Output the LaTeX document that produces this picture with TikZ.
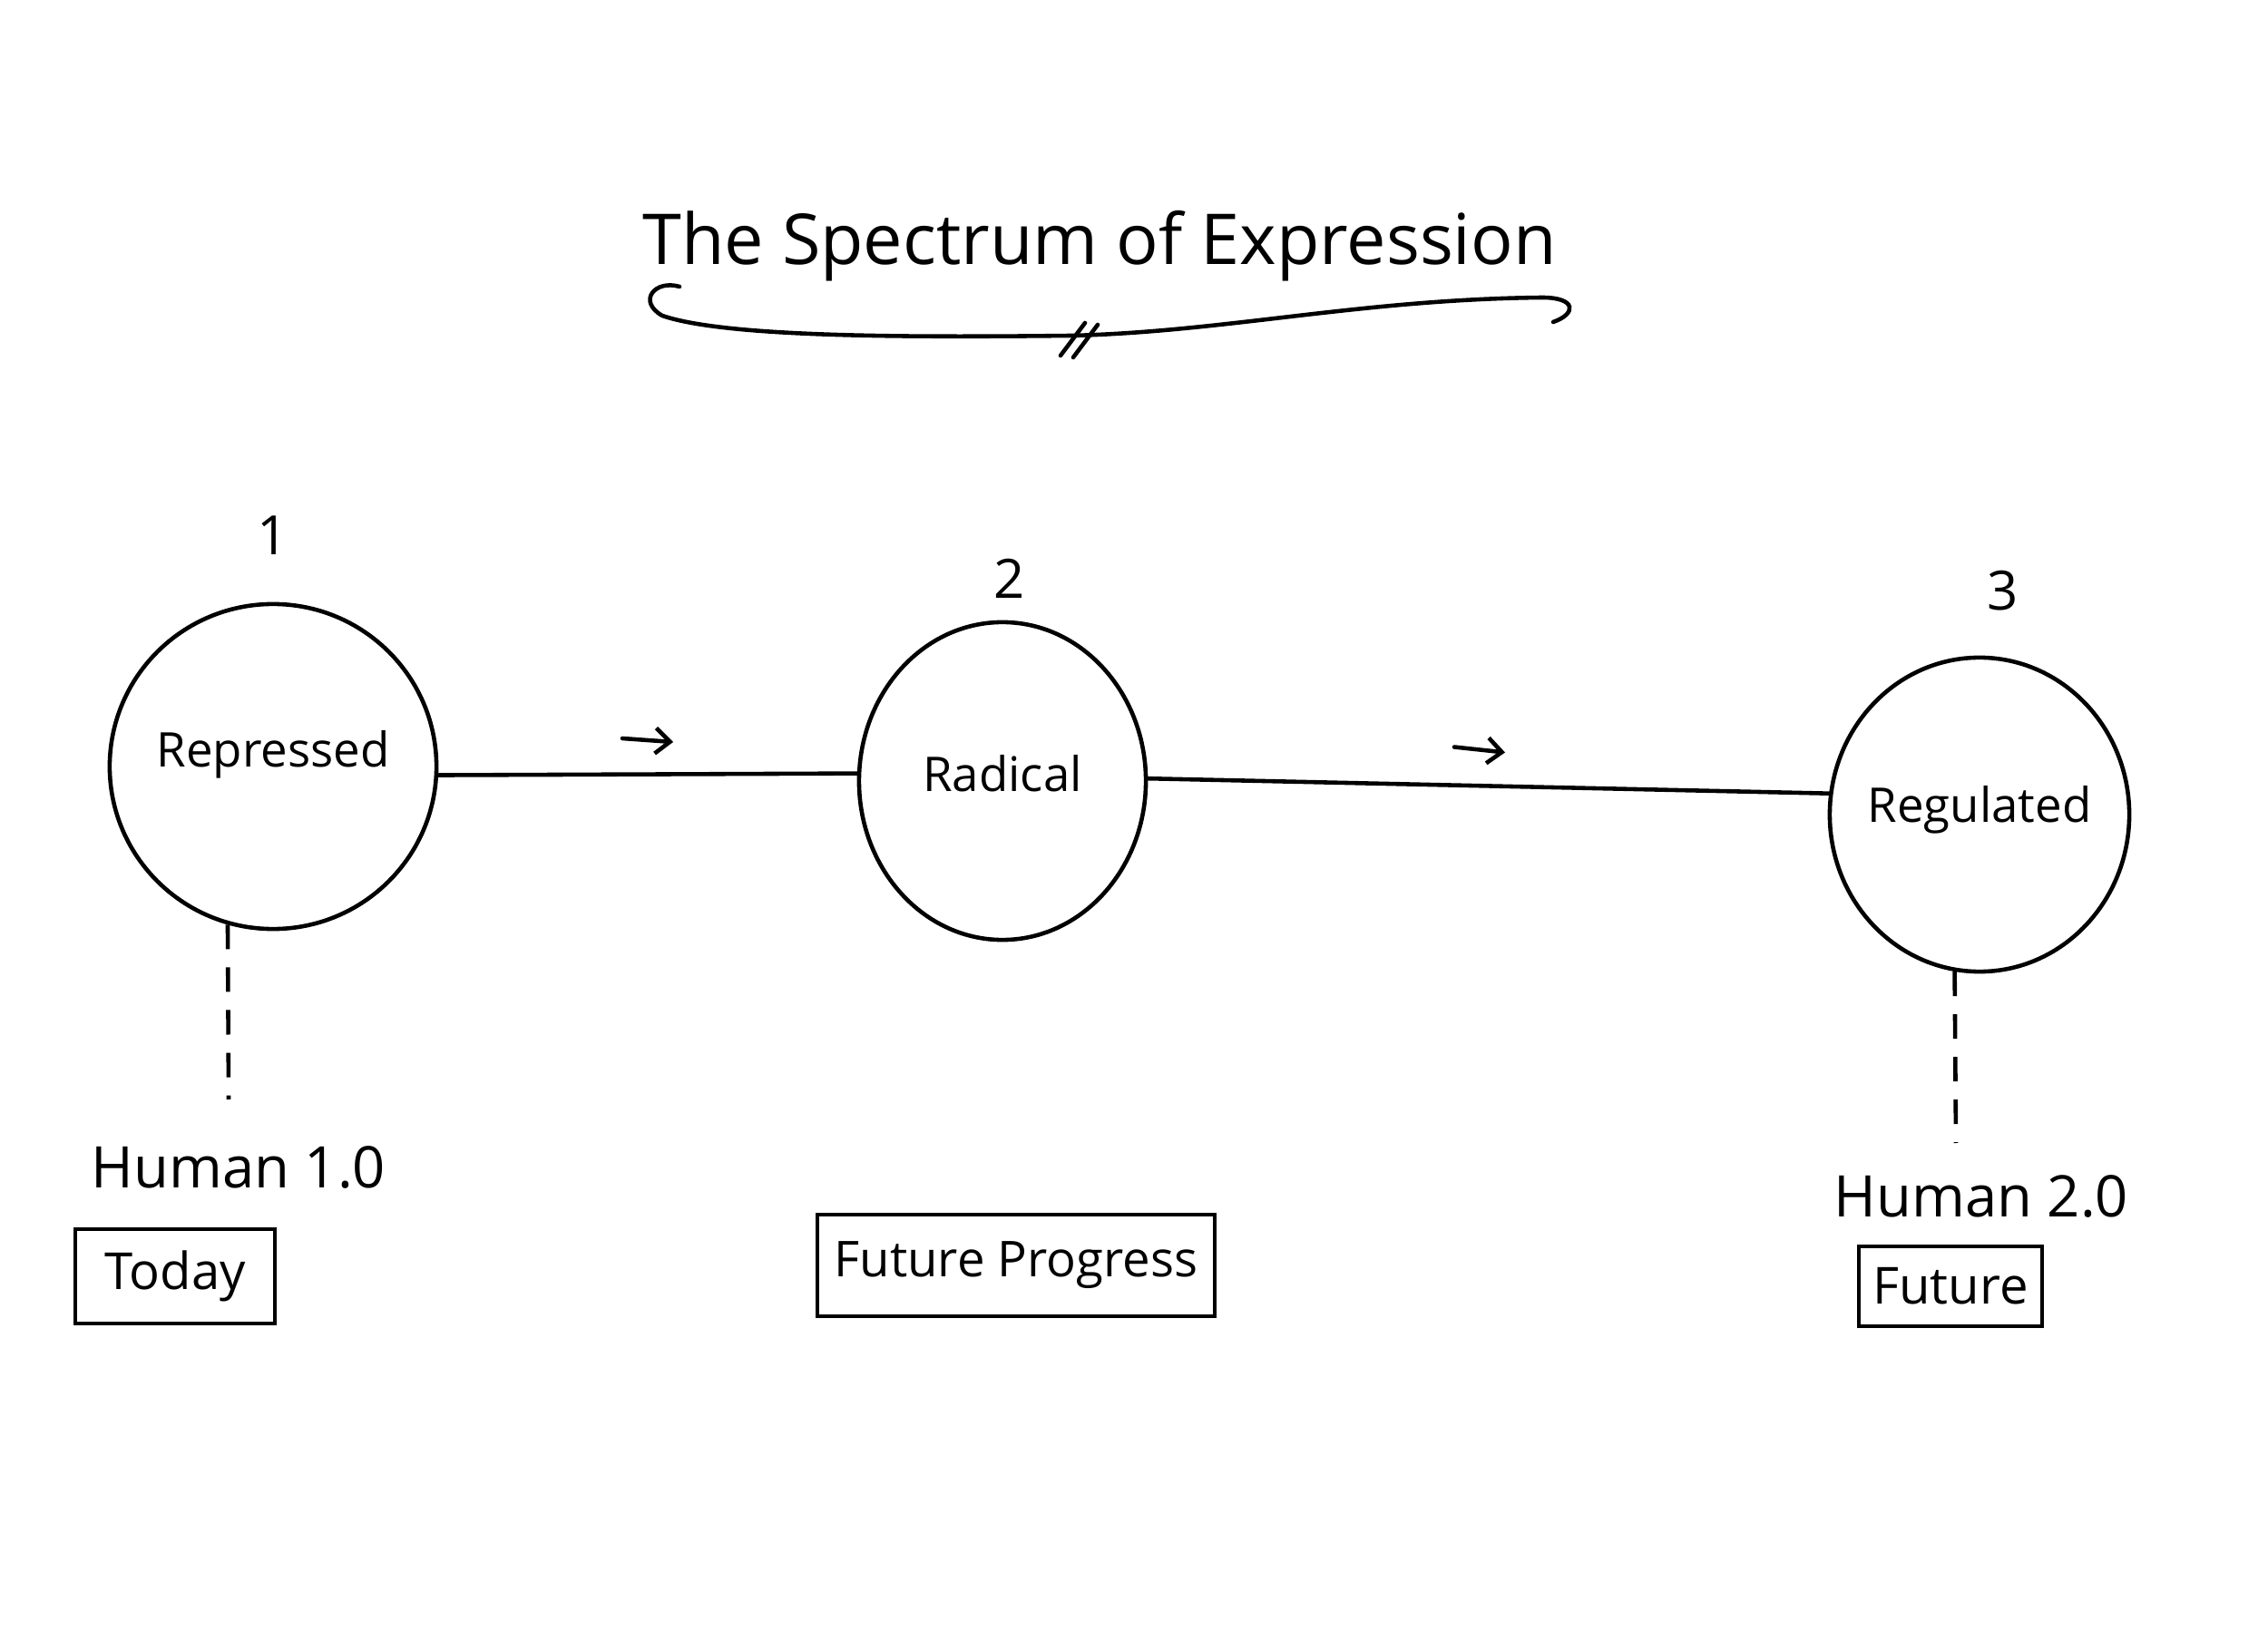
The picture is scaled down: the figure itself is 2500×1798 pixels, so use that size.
\documentclass[tikz,border=0pt]{standalone}
\usepackage{fontspec}
\setmainfont{Open Sans}
\usetikzlibrary{arrows.meta, positioning, shapes.geometric, calc}

\begin{document}
\begin{tikzpicture}[
  x=0.01cm, y=-0.01cm,
  line width=1.3pt,
  bubble/.style={ellipse, draw, inner sep=0pt},
  inside/.style={font=\fontsize{15}{18}\selectfont, inner sep=0pt},
  num/.style={font=\fontsize{17}{20}\selectfont, inner sep=0pt},
  era/.style={font=\fontsize{18}{22}\selectfont, inner sep=0pt},
  tag/.style={draw, inner sep=0pt, font=\fontsize{16}{19}\selectfont},
  link/.style={line cap=round},
  tie/.style={dash pattern=on 0.27cm off 0.2cm},
  hint/.style={-{Straight Barb[length=1.6mm, width=2.8mm]}, line cap=round}
]
\useasboundingbox (0,0) rectangle (2500,1798);

% title with its curly underline
\node[font=\fontsize{22}{26}\selectfont, anchor=base] (title) at (1212,292) {The Spectrum of Expression};
\draw[line cap=round] (749,316) .. controls (722,308) and (702,332) .. (730,348)
  .. controls (800,372) and (1000,372) .. (1180,370)
  .. controls (1350,366) and (1500,330) .. (1700,328)
  .. controls (1738,328) and (1738,346) .. (1712,355);
\draw[line cap=round] (1169,392) -- (1196,356);
\draw[line cap=round] (1183,394) -- (1210,358);

% the three stages
\node[bubble, minimum width=3.6cm, minimum height=3.58cm,
      label={[inside, yshift=1.3mm]center:Repressed}] (rep) at (301,845) {};
\node[bubble, minimum width=3.16cm, minimum height=3.5cm,
      label={[inside, yshift=0.8mm]center:Radical}] (rad) at (1105,861) {};
\node[bubble, minimum width=3.3cm, minimum height=3.46cm,
      label={[inside, yshift=0.5mm]center:Regulated}] (reg) at (2182,898) {};

\node[num, above=5mm of rep] (n1) {1};
\node[num, above=2.2mm of rad, xshift=0.8mm] (n2) {2};
\node[num, above=4.7mm of reg, xshift=2.6mm] (n3) {3};

\draw[link] (rep.-3) -- (rad.177);
\draw[link] (rad.1) -- (reg.172);

\coordinate (m1) at ($(rep.east)!0.5!(rad.west)$);
\coordinate (m2) at ($(rad.east)!0.5!(reg.west)$);
\draw[hint] ($(m1)+(-28,-39)$) -- ($(m1)+(28,-35)$);
\draw[hint] ($(m2)+(-37,-56)$) -- ($(m2)+(19,-50)$);

% now and later
\node[era] (h1) at (263,1287) {Human 1.0};
\node[era] (h2) at (2184,1319) {Human 2.0};
\coordinate (d1) at (252,1212);
\coordinate (d2) at (2156,1260);
\draw[tie] (rep.254) -- (d1);
\draw[tie] (reg.261) -- (d2);

\node[tag, minimum width=2.2cm, minimum height=1.04cm] (today) at (193,1407) {Today};
\node[tag, minimum width=4.38cm, minimum height=1.12cm,
      font=\fontsize{15.5}{18}\selectfont] (prog) at (1120,1395) {Future Progress};
\node[tag, minimum width=2.02cm, minimum height=0.88cm] (fut) at (2150,1418) {Future};

\end{tikzpicture}
\end{document}
